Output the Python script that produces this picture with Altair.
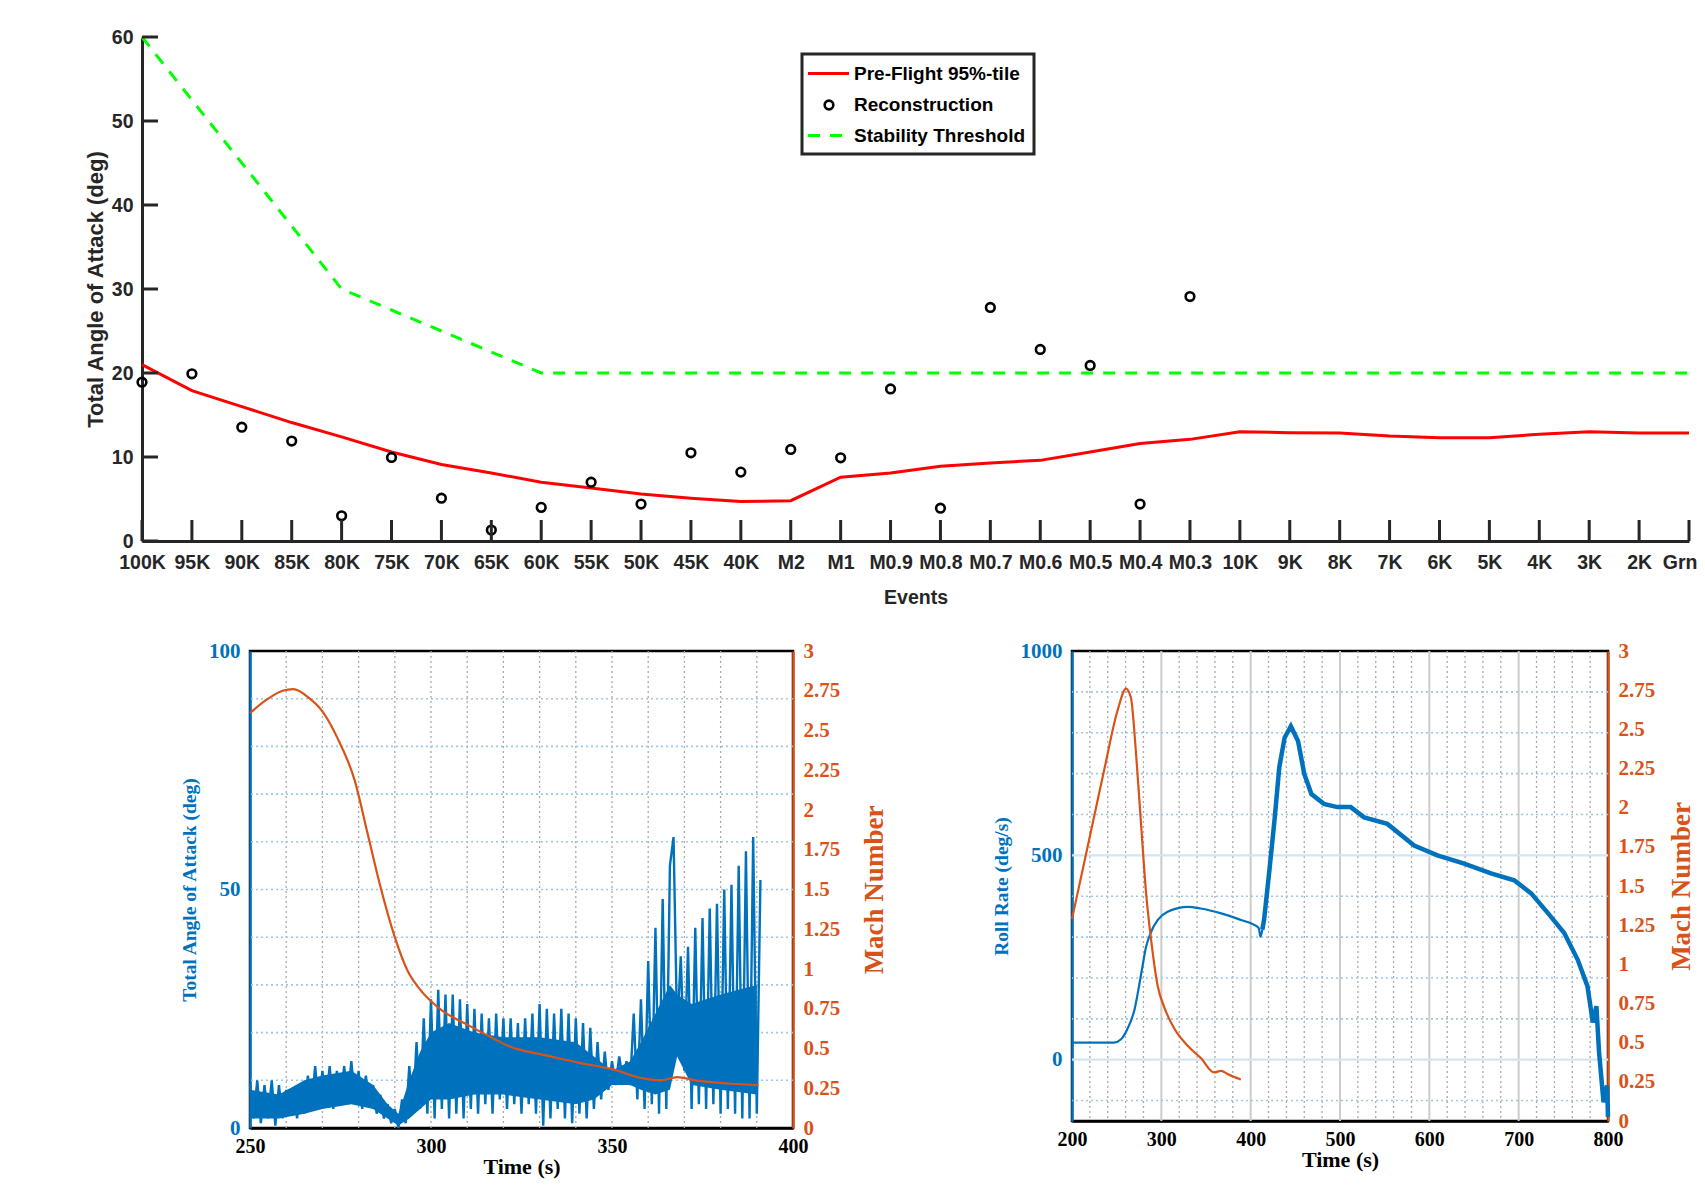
import altair as alt
import pandas as pd

# ---------------- data ----------------
events = ["100K", "95K", "90K", "85K", "80K", "75K", "70K", "65K", "60K", "55K",
          "50K", "45K", "40K", "M2", "M1", "M0.9", "M0.8", "M0.7", "M0.6", "M0.5",
          "M0.4", "M0.3", "10K", "9K", "8K", "7K", "6K", "5K", "4K", "3K", "2K", "Grn"]
preflight = [21.0, 17.9, 16.0, 14.1, 12.4, 10.6, 9.1, 8.1, 7.0, 6.3,
             5.6, 5.1, 4.7, 4.8, 7.6, 8.1, 8.9, 9.3, 9.6, 10.6,
             11.6, 12.1, 13.0, 12.9, 12.85, 12.5, 12.3, 12.3, 12.7, 13.0, 12.85, 12.85]
threshold = [60, 52.5, 45, 37.5, 30, 27.5, 25, 22.5, 20, 20,
             20, 20, 20, 20, 20, 20, 20, 20, 20, 20,
             20, 20, 20, 20, 20, 20, 20, 20, 20, 20, 20, 20]
recon_events = events[:22]
reconstruction = [18.9, 19.9, 13.55, 11.9, 3.0, 9.95, 5.1, 1.3, 4.0, 7.0,
                  4.4, 10.5, 8.2, 10.9, 9.9, 18.1, 3.9, 27.8, 22.8, 20.9,
                  4.4, 29.1]
top_yticks = [0, 10, 20, 30, 40, 50, 60]
legend_labels = ["Pre-Flight 95%-tile", "Reconstruction", "Stability Threshold"]

# bottom-left: total angle of attack (peaks / troughs, 1 s apart) and Mach
aoa_time = list(range(250, 392))
aoa = [9, 2, 10, 1, 9, 2, 10, 0.5, 9, 2,
       8, 3, 8, 2, 9, 3, 11, 4, 13, 4,
       12, 5, 13, 4, 12, 5, 13, 6, 14, 5,
       12, 4, 11, 5, 9, 3, 7, 2, 5, 1,
       4, 0, 6, 1, 13, 3, 18, 4, 23, 3,
       27, 2, 29, 4, 28, 2, 28, 3, 27, 2,
       26, 4, 25, 3, 24, 5, 23, 3, 24, 6,
       23, 4, 23, 5, 22, 3, 23, 5, 24, 3,
       26, 0.5, 25, 2, 24, 4, 25, 2, 24, 1,
       23, 3, 22, 2, 21, 4, 18, 6, 16, 8,
       14, 9, 15, 10, 14, 9, 24, 6, 27, 4,
       35, 5, 42, 3, 48, 4, 55, 61, 20, 36,
       12, 38, 4, 42, 5, 44, 4, 46, 5, 47,
       3, 50, 4, 51, 3, 55, 2, 58, 2, 61,
       3, 52]
# the solid (densely oscillating) core of the angle-of-attack trace
aoa_core_time = [250, 258, 265, 270, 278, 284, 288, 291, 294, 297, 300, 305, 312,
                 320, 330, 340, 345, 350, 355, 358, 362, 366, 368, 372, 380, 390]
aoa_core_lo = [2, 2, 3, 4, 5, 4, 2, 0.5, 2, 4, 6, 6, 7,
               7, 6, 5, 6, 9, 9, 8, 7, 8, 15, 9, 8, 7]
aoa_core_hi = [8, 7, 10, 11, 12, 9, 5, 3, 10, 16, 20, 22, 20,
               19, 19, 18, 15, 12, 14, 18, 24, 30, 28, 26, 28, 30]
mach_time_a = [250, 255, 259, 262, 266, 270, 274, 279, 282.5, 286, 290, 293.5, 297,
               303, 310, 317.5, 322, 325, 331, 341, 350, 359, 363.5, 368, 373, 382, 390.5]
mach_a = [2.61, 2.70, 2.75, 2.76, 2.71, 2.62, 2.46, 2.18, 1.85, 1.52, 1.20, 0.99, 0.87,
          0.74, 0.65, 0.56, 0.51, 0.49, 0.46, 0.41, 0.37, 0.31, 0.30, 0.32, 0.30, 0.28, 0.27]

# bottom-right: roll rate and Mach
roll_time = [200, 247, 255, 262, 270, 277, 283, 288, 296, 307, 330, 344, 367, 389,
             404, 409, 411, 413]
roll_rate = [42, 42, 50, 75, 123, 204, 277, 310, 342, 362, 374, 370, 358, 342,
             330, 322, 301, 318]
roll_time_noisy = [413, 415, 421, 427, 432, 438, 445, 453, 460, 468, 482, 497, 512,
                   527, 553, 583, 609, 639, 669, 695, 714, 733, 751, 766, 777, 783,
                   787, 790, 795, 799, 800]
roll_noisy = [318, 342, 464, 593, 715, 788, 816, 780, 699, 650, 626, 618, 618,
              593, 577, 524, 500, 480, 456, 439, 407, 358, 310, 245, 180, 91,
              131, 18, -104, -63, -140]
mach_time_b = [200, 217.5, 236, 251, 260.5, 266, 271.5, 277, 283, 288.5, 296, 303,
               314.5, 329.5, 344.5, 359, 367, 374, 389]
mach_b = [1.29, 1.75, 2.24, 2.62, 2.76, 2.70, 2.36, 1.92, 1.45, 1.16, 0.86, 0.73,
          0.59, 0.48, 0.40, 0.31, 0.32, 0.30, 0.265]

mach_ticks = [0, 0.25, 0.5, 0.75, 1, 1.25, 1.5, 1.75, 2, 2.25, 2.5, 2.75, 3]
bl_time_ticks = [250, 300, 350, 400]
bl_grid_times = [260, 270, 280, 290, 300, 310, 320, 330, 340, 350, 360, 370, 380, 390]
bl_aoa_ticks = [0, 50, 100]
bl_grid_aoa = [10, 20, 30, 40, 50, 60, 70, 80, 90]
br_time_ticks = [200, 300, 400, 500, 600, 700, 800]
br_grid_minor_t = [220, 240, 260, 280, 320, 340, 360, 380, 420, 440, 460, 480,
                   520, 540, 560, 580, 620, 640, 660, 680, 720, 740, 760, 780]
br_grid_major_t = [300, 400, 500, 600, 700]
br_roll_ticks = [0, 500, 1000]
br_grid_minor_r = [-100, 100, 200, 300, 400, 600, 700, 800, 900]
br_grid_major_r = [0, 500]

# ---------------- styles ----------------
SANS = "Liberation Sans, Arial, sans-serif"
SERIF = "Liberation Serif, Times New Roman, serif"
DARK = "#262626"
BLUE = "#0072BD"
ORANGE = "#D95319"
GRIDBLUE = "#9ec7e6"
GRIDGRAY = "#a9a9a9"
YT = "Total Angle of Attack (deg)"
RT = "Roll Rate (deg/s)"
TT = "Time (s)"

# ---------------- top chart ----------------
df_top = pd.DataFrame({"event": events, "pre": preflight, "thr": threshold})
df_rec = pd.DataFrame({"event": recon_events, "rec": reconstruction})
df_ev = pd.DataFrame({"event": events})
df_yt = pd.DataFrame({"v": top_yticks})
one = pd.DataFrame({"k": [0]})

xsc = alt.Scale(domain=events, type="point", padding=0)
ysc = alt.Scale(domain=[0, 60], nice=False, zero=False)
xaxis = alt.Axis(
    title="Events", labelAngle=0, ticks=False, grid=False,
    domainColor=DARK, domainWidth=3,
    labelFont=SANS, labelFontSize=19.5, labelFontWeight="bold", labelColor=DARK,
    labelPadding=12, labelOverlap=False,
    labelAlign={"condition": {"test": "datum.label === 'Grn'", "value": "right"}, "value": "center"},
    labelOffset={"condition": {"test": "datum.label === 'Grn'", "value": 8}, "value": 0},
    titleFont=SANS, titleFontSize=19.5, titleFontWeight="bold", titleColor=DARK, titlePadding=17,
)
yaxis = alt.Axis(
    title=YT, values=top_yticks, ticks=False, grid=False,
    domainColor=DARK, domainWidth=3,
    labelFont=SANS, labelFontSize=19.5, labelFontWeight="bold", labelColor=DARK, labelPadding=9,
    titleFont=SANS, titleFontSize=22, titleFontWeight="bold", titleColor=DARK, titlePadding=4,
)

thr_line = alt.Chart(df_top).mark_line(color="#00FF00", strokeWidth=3, strokeDash=[12, 10]).encode(
    x=alt.X("event:N", scale=xsc, axis=xaxis, sort=events),
    y=alt.Y("thr:Q", scale=ysc, axis=yaxis, title=YT),
)
pre_line = alt.Chart(df_top).mark_line(color="#FF0000", strokeWidth=3).encode(
    x=alt.X("event:N", scale=xsc, sort=events, title="Events"),
    y=alt.Y("pre:Q", scale=ysc, title=YT),
)
rec_pts = alt.Chart(df_rec).mark_point(filled=False, color="black", size=75, strokeWidth=2.6, opacity=1).encode(
    x=alt.X("event:N", scale=xsc, sort=events, title="Events"),
    y=alt.Y("rec:Q", scale=ysc, title=YT),
)
x_ticks = alt.Chart(df_ev).mark_rule(color=DARK, strokeWidth=3).encode(
    x=alt.X("event:N", scale=xsc, sort=events, title="Events"),
    y=alt.YDatum(0, scale=ysc, title=YT),
    y2=alt.Y2Datum(2.5),
)
y_ticks = alt.Chart(df_yt).mark_rule(color=DARK, strokeWidth=3).encode(
    y=alt.Y("v:Q", scale=ysc, title=YT),
    x=alt.value(0), x2=alt.value(16),
)
leg_box = alt.Chart(one).mark_rect(fill="white", stroke=DARK, strokeWidth=3).encode(
    x=alt.value(660), x2=alt.value(892), y=alt.value(17), y2=alt.value(117))
leg_red = alt.Chart(one).mark_rule(color="#FF0000", strokeWidth=3).encode(
    x=alt.value(666), x2=alt.value(707), y=alt.value(36.5))
leg_pt = alt.Chart(one).mark_point(filled=False, color="black", size=75, strokeWidth=2.6, opacity=1).encode(
    x=alt.value(687), y=alt.value(68))
leg_green = alt.Chart(one).mark_rule(color="#00FF00", strokeWidth=3, strokeDash=[12, 10]).encode(
    x=alt.value(666), x2=alt.value(707), y=alt.value(98.5))
leg_text = [
    alt.Chart(one).mark_text(align="left", baseline="middle", font=SANS, fontSize=19,
                             fontWeight="bold", color="black").encode(
        x=alt.value(712), y=alt.value(yy), text=alt.value(lab))
    for lab, yy in zip(legend_labels, [36.5, 68, 98.5])
]

top = alt.layer(thr_line, pre_line, rec_pts, x_ticks, y_ticks,
                leg_box, leg_red, leg_pt, leg_green, *leg_text).properties(width=1547, height=504)


# ---------------- shared bottom axes ----------------
def time_axis(vals):
    return alt.Axis(
        title=TT, values=vals, ticks=False, grid=False,
        domainColor="black", domainWidth=2.5,
        labelFont=SERIF, labelFontSize=20, labelFontWeight="bold", labelColor="black",
        labelPadding=8, labelFlush=False, labelOverlap=False,
        titleFont=SERIF, titleFontSize=22, titleFontWeight="bold", titleColor="black", titlePadding=0,
    )


def left_axis(title, vals):
    return alt.Axis(
        title=title, values=vals, format="d", ticks=False, grid=False,
        domainColor=BLUE, domainWidth=2.5,
        labelFont=SERIF, labelFontSize=21, labelFontWeight="bold", labelColor=BLUE, labelPadding=10,
        titleFont=SERIF, titleFontSize=19.5, titleFontWeight="bold", titleColor=BLUE, titlePadding=9)


def mach_axis(tpad):
    return alt.Axis(
        orient="right", title="Mach Number", values=mach_ticks, format=".3~g",
        ticks=False, grid=False, domainColor=ORANGE, domainWidth=2.5,
        labelFont=SERIF, labelFontSize=21, labelFontWeight="bold", labelColor=ORANGE,
        labelPadding=10, labelOverlap=False,
        titleFont=SERIF, titleFontSize=27, titleFontWeight="bold", titleColor=ORANGE,
        titlePadding=tpad, titleAngle=270, titleBaseline="top",
    )


def vgrid(times, color, dash, width, xs):
    return alt.Chart(pd.DataFrame({"t": times})).mark_rule(
        color=color, strokeDash=dash, strokeWidth=width).encode(x=alt.X("t:Q", scale=xs, title=TT))


def hgrid(vals, color, dash, width, ys, title):
    return alt.Chart(pd.DataFrame({"v": vals})).mark_rule(
        color=color, strokeDash=dash, strokeWidth=width).encode(y=alt.Y("v:Q", scale=ys, title=title))


mach_sc = alt.Scale(domain=[0, 3], nice=False, zero=False)

# ---------------- bottom-left chart ----------------
df_aoa = pd.DataFrame({"t": aoa_time, "aoa": aoa})
df_core = pd.DataFrame({"t": aoa_core_time, "lo": aoa_core_lo, "hi": aoa_core_hi})
df_ma = pd.DataFrame({"t": mach_time_a, "mach": mach_a})
bl_xs = alt.Scale(domain=[250, 400], nice=False, zero=False)
bl_ys = alt.Scale(domain=[0, 100], nice=False, zero=False)

bl_core = alt.Chart(df_core).mark_area(color=BLUE, opacity=1).encode(
    x=alt.X("t:Q", scale=bl_xs, title=TT),
    y=alt.Y("lo:Q", scale=bl_ys, title=YT),
    y2="hi:Q",
)
bl_aoa = alt.Chart(df_aoa).mark_line(color=BLUE, strokeWidth=2.4).encode(
    x=alt.X("t:Q", scale=bl_xs, axis=time_axis(bl_time_ticks)),
    y=alt.Y("aoa:Q", scale=bl_ys, axis=left_axis(YT, bl_aoa_ticks)),
)
bl_left = alt.layer(
    vgrid(bl_grid_times, GRIDGRAY, [2, 3], 1.3, bl_xs),
    hgrid(bl_grid_aoa, GRIDBLUE, [2, 3], 1.6, bl_ys, YT),
    bl_core,
    bl_aoa,
)
bl_mach = alt.Chart(df_ma).mark_line(color=ORANGE, strokeWidth=2.2, interpolate="monotone").encode(
    x=alt.X("t:Q", scale=bl_xs, title=TT),
    y=alt.Y("mach:Q", scale=mach_sc, axis=mach_axis(22)),
)
bl = alt.layer(bl_left, bl_mach).resolve_scale(y="independent").properties(
    width=543, height=477, view=alt.ViewBackground(stroke="black", strokeWidth=2.5))

# ---------------- bottom-right chart ----------------
df_roll = pd.DataFrame({"t": roll_time, "r": roll_rate})
df_rolln = pd.DataFrame({"t": roll_time_noisy, "r": roll_noisy})
df_mb = pd.DataFrame({"t": mach_time_b, "mach": mach_b})
br_xs = alt.Scale(domain=[200, 800], nice=False, zero=False)
br_ys = alt.Scale(domain=[-150, 1000], nice=False, zero=False)

br_roll = alt.Chart(df_roll).mark_line(color=BLUE, strokeWidth=2.2, interpolate="monotone").encode(
    x=alt.X("t:Q", scale=br_xs, axis=time_axis(br_time_ticks)),
    y=alt.Y("r:Q", scale=br_ys, axis=left_axis(RT, br_roll_ticks)),
)
br_rolln = alt.Chart(df_rolln).mark_line(color=BLUE, strokeWidth=4.5).encode(
    x=alt.X("t:Q", scale=br_xs, title=TT), y=alt.Y("r:Q", scale=br_ys, title=RT))
br_left = alt.layer(
    vgrid(br_grid_minor_t, GRIDGRAY, [2, 3], 1.3, br_xs),
    vgrid(br_grid_major_t, "#cccccc", [1, 0], 2, br_xs),
    hgrid(br_grid_minor_r, GRIDBLUE, [2, 3], 1.6, br_ys, RT),
    hgrid(br_grid_major_r, "#d3e5f2", [1, 0], 2.2, br_ys, RT),
    br_roll, br_rolln,
)
br_mach = alt.Chart(df_mb).mark_line(color=ORANGE, strokeWidth=2.2, interpolate="monotone").encode(
    x=alt.X("t:Q", scale=br_xs, title=TT),
    y=alt.Y("mach:Q", scale=mach_sc, axis=mach_axis(14)),
)
br = alt.layer(br_left, br_mach).resolve_scale(y="independent").properties(
    width=536, height=470, view=alt.ViewBackground(stroke="black", strokeWidth=2.5))

# ---------------- layout ----------------
spacer = alt.Chart(one).mark_point(opacity=0).encode(
    x=alt.X("k:Q", axis=None), y=alt.Y("k:Q", axis=None)).properties(width=108, height=10)

bottom_inner = alt.hconcat(bl, br, spacing=279, bounds="flush")
bottom = alt.hconcat(spacer, bottom_inner, spacing=0, bounds="flush")

chart = alt.vconcat(top, bottom, spacing=110, bounds="flush").properties(
    padding={"left": 76, "top": 19, "right": 0, "bottom": 0},
    background="white",
).configure_view(stroke="transparent", strokeWidth=0)

chart.save("out.html", embed_options={"renderer": "svg", "actions": False})
